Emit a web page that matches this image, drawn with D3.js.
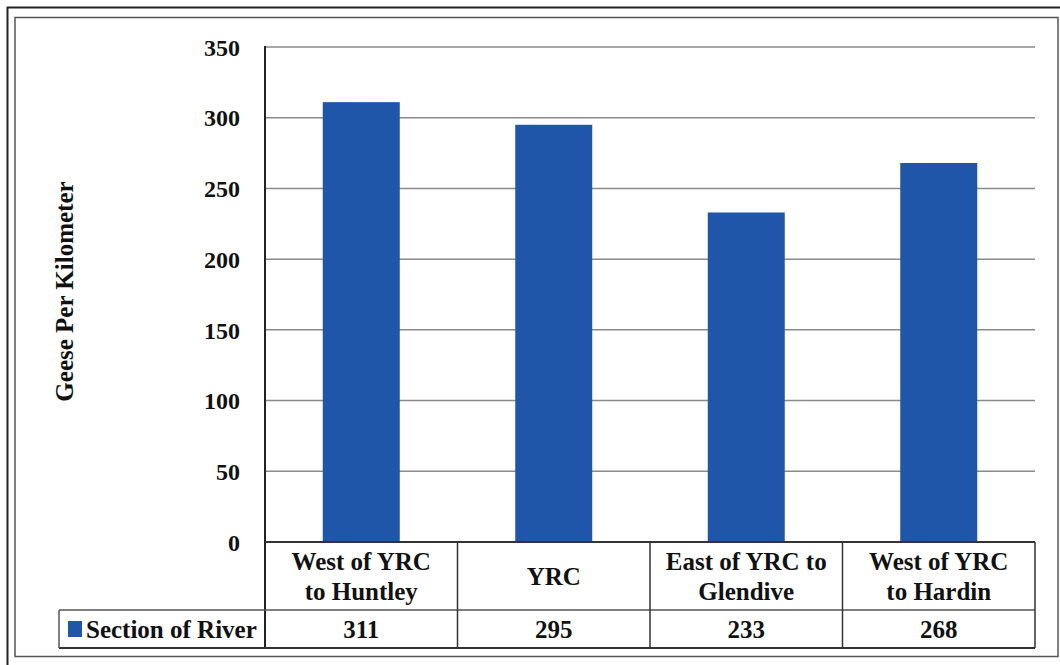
<!DOCTYPE html>
<html>
<head>
<meta charset="utf-8">
<script src="https://cdn.jsdelivr.net/npm/d3@7"></script>
<style>
  html, body { margin: 0; padding: 0; background: #fff; }
  svg { display: block; }
</style>
</head>
<body>
<svg id="chart" width="1060" height="665"></svg>
<script>
// Goose density by river section
const categories = [
  ["West of YRC", "to Huntley"],
  ["YRC"],
  ["East of YRC to", "Glendive"],
  ["West of YRC", "to Hardin"]
];
const values = [311, 295, 233, 268];
const yTicks = [0, 50, 100, 150, 200, 250, 300, 350];
const seriesName = "Section of River";
const yTitle = "Geese Per Kilometer";

const FONT = "Liberation Serif";
const svg = d3.select("#chart");
const barColor = "#1f56a9";

function styleText(sel, size) {
  return sel.style("font-family", FONT).style("font-weight", "bold")
    .style("font-size", size + "px").attr("fill", "#111");
}

// Frame (double border)
svg.append("rect").attr("x", 7.5).attr("y", 7.5).attr("width", 1062).attr("height", 662)
  .attr("fill", "none").attr("stroke", "#222").attr("stroke-width", 2);
svg.append("rect").attr("x", 15).attr("y", 17.5).attr("width", 1043).attr("height", 639)
  .attr("fill", "none").attr("stroke", "#555").attr("stroke-width", 1.5);

const plot = { left: 265, right: 1035, top: 47, bottom: 542 };
const tableRow1 = 610, tableBottom = 648, legendLeft = 59;

const x = d3.scaleBand()
  .domain(d3.range(categories.length))
  .range([plot.left, plot.right])
  .paddingInner(0).paddingOuter(0);

const y = d3.scaleLinear()
  .domain([0, 350])
  .range([plot.bottom, plot.top]);

// Gridlines
svg.append("g")
  .selectAll("line")
  .data(yTicks.filter(d => d > 0))
  .join("line")
  .attr("x1", plot.left).attr("x2", plot.right)
  .attr("y1", d => y(d)).attr("y2", d => y(d))
  .attr("stroke", "#8a8a8a").attr("stroke-width", 1.5);

// Bars
const barW = x.bandwidth() * 0.4;
svg.append("g")
  .selectAll("rect")
  .data(values)
  .join("rect")
  .attr("x", (d, i) => x(i) + (x.bandwidth() - barW) / 2)
  .attr("y", d => y(d))
  .attr("width", barW)
  .attr("height", d => y(0) - y(d))
  .attr("fill", barColor);

// Y axis
const yAxis = d3.axisLeft(y).tickValues(yTicks).tickSize(0).tickPadding(25);
const yg = svg.append("g").attr("transform", `translate(${plot.left},0)`).call(yAxis);
yg.attr("font-family", null).attr("font-size", null);
yg.select(".domain").remove();
styleText(yg.selectAll("text"), 24).attr("dy", "0.34em");

svg.append("line")
  .attr("x1", plot.left).attr("x2", plot.left)
  .attr("y1", plot.top - 1).attr("y2", tableBottom)
  .attr("stroke", "#222").attr("stroke-width", 2);

// Y title
styleText(svg.append("text"), 25)
  .attr("transform", `translate(73,${(plot.top + plot.bottom) / 2 - 3}) rotate(-90)`)
  .attr("text-anchor", "middle")
  .text(yTitle);

// Data table
const tbl = svg.append("g");
const lineColor = "#333";
tbl.append("line").attr("x1", plot.left).attr("x2", plot.right)
  .attr("y1", plot.bottom).attr("y2", plot.bottom).attr("stroke", lineColor).attr("stroke-width", 2);
tbl.append("line").attr("x1", legendLeft).attr("x2", plot.right)
  .attr("y1", tableRow1).attr("y2", tableRow1).attr("stroke", "#555").attr("stroke-width", 1.5);
tbl.append("line").attr("x1", legendLeft).attr("x2", plot.right)
  .attr("y1", tableBottom).attr("y2", tableBottom).attr("stroke", lineColor).attr("stroke-width", 2);
tbl.append("line").attr("x1", legendLeft).attr("x2", legendLeft)
  .attr("y1", tableRow1).attr("y2", tableBottom).attr("stroke", "#555").attr("stroke-width", 1.5);
tbl.selectAll("line.v")
  .data(d3.range(1, categories.length + 1))
  .join("line").attr("class", "v")
  .attr("x1", i => x(i - 1) + x.bandwidth()).attr("x2", i => x(i - 1) + x.bandwidth())
  .attr("y1", plot.bottom).attr("y2", tableBottom)
  .attr("stroke", lineColor).attr("stroke-width", 1.5);

// Category labels
const catText = styleText(tbl.selectAll("text.cat")
  .data(categories)
  .join("text").attr("class", "cat")
  .attr("text-anchor", "middle"), 25);
catText.each(function (lines, i) {
  const t = d3.select(this);
  const cx = x(i) + x.bandwidth() / 2;
  const mid = (plot.bottom + tableRow1) / 2;
  const lh = 30;
  lines.forEach((ln, k) => {
    t.append("tspan")
      .attr("x", cx)
      .attr("y", mid + 9 + (k - (lines.length - 1) / 2) * lh)
      .text(ln);
  });
});

// Value row
styleText(tbl.selectAll("text.val")
  .data(values)
  .join("text").attr("class", "val")
  .attr("text-anchor", "middle")
  .attr("x", (d, i) => x(i) + x.bandwidth() / 2)
  .attr("y", 638), 25)
  .text(d => d);

// Legend key + series name
tbl.append("rect")
  .attr("x", 68).attr("y", 621).attr("width", 14).attr("height", 16)
  .attr("fill", barColor);
styleText(tbl.append("text"), 25)
  .attr("x", 86).attr("y", 638)
  .text(seriesName);
</script>
</body>
</html>
